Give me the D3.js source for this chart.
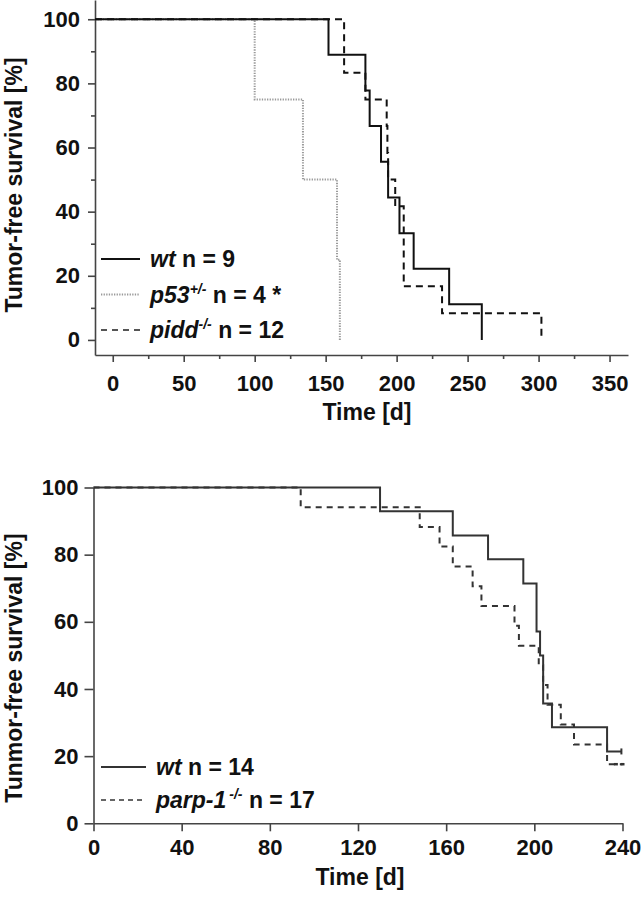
<!DOCTYPE html>
<html>
<head>
<meta charset="utf-8">
<script src="https://d3js.org/d3.v7.min.js"></script>
<style>
body { margin: 0; background: #fff; }
text { font-family: "Liberation Sans", Arial, sans-serif; font-weight: bold; fill: #111; }
</style>
</head>
<body>
<script>
// top panel - tumor-free survival (days, %)
var wtTime = [0, 152, 178, 181, 189, 194, 202, 212, 237, 260];
var wtSurv = [100, 88.9, 77.8, 66.7, 55.6, 44.4, 33.3, 22.2, 11.1, 0];
var p53Time = [0, 100, 134, 158, 160];
var p53Surv = [100, 75, 50, 25, 0];
var piddTime = [0, 163, 178, 193, 193.5, 194, 199, 205, 232, 302];
var piddSurv = [100, 83.3, 75, 66.7, 58.3, 50, 41.7, 16.7, 8.3, 0];

// bottom panel
var wt2Time = [0, 130, 163, 179, 195, 201, 202.6, 204, 208, 233, 239.5];
var wt2Surv = [100, 92.9, 85.7, 78.6, 71.4, 57.1, 50, 35.7, 28.6, 21.4, 21.4];
var parpTime = [0, 94, 148, 157, 163, 172, 176, 191, 193, 202, 204, 206, 212, 218, 233, 240];
var parpSurv = [100, 94.1, 88.2, 82.4, 76.5, 70.6, 64.7, 58.8, 52.9, 47.1, 41.2, 35.3, 29.4, 23.5, 17.6, 17.6];
var wt2Censor = [239.5];
var parpCensor = [237, 240];

var topXTicks = [0, 50, 100, 150, 200, 250, 300, 350];
var topXMinor = [25, 75, 125, 175, 225, 275, 325];
var topYTicks = [0, 20, 40, 60, 80, 100];
var topYMinor = [10, 30, 50, 70, 90];
var botXTicks = [0, 40, 80, 120, 160, 200, 240];
var botYTicks = [0, 20, 40, 60, 80, 100];

var topNames = ["wt", "p53", "pidd"];
var topSups = ["", "+/-", "-/-"];
var topCounts = [" n = 9", " n = 4 *", " n = 12"];
var botNames = ["wt", "parp-1"];
var botSups = ["", "-/-"];
var botCounts = [" n = 14", " n = 17"];

var svg = d3.select("body").append("svg")
    .attr("width", 643)
    .attr("height", 897);

function zip(t, s) {
  return t.map(function(d, i) { return {t: d, s: s[i]}; });
}

// ---------- top chart ----------
var x1 = d3.scaleLinear().domain([-12.5, 363]).range([95, 628]);
var y1 = d3.scaleLinear().domain([-4.7, 106]).range([355, 0]);

var topG = svg.append("g");

topG.append("g")
    .attr("transform", "translate(95,0)")
    .call(d3.axisLeft(y1).tickValues(topYTicks).tickSize(7).tickSizeOuter(0).tickPadding(8));
topG.append("g")
    .attr("transform", "translate(95,0)")
    .call(d3.axisLeft(y1).tickValues(topYMinor).tickSize(4).tickFormat(""))
    .select(".domain").remove();

topG.append("g")
    .attr("transform", "translate(0,355)")
    .call(d3.axisBottom(x1).tickValues(topXTicks).tickSize(7).tickSizeOuter(0).tickPadding(13));
topG.append("g")
    .attr("transform", "translate(0,355)")
    .call(d3.axisBottom(x1).tickValues(topXMinor).tickSize(4).tickFormat(""))
    .select(".domain").remove();

var line1 = d3.line()
    .x(function(d) { return x1(d.t); })
    .y(function(d) { return y1(d.s); })
    .curve(d3.curveStepAfter);

// curves are drawn from the left edge of the axis
function fromEdge(t, s) {
  var pts = zip(t, s);
  pts.unshift({t: x1.domain()[0], s: s[0]});
  return pts;
}

topG.append("path").datum(fromEdge(p53Time, p53Surv))
    .attr("d", line1).attr("fill", "none")
    .attr("stroke", "#9a9a9a").attr("stroke-width", 2).attr("stroke-dasharray", "1.3,1.3");
topG.append("path").datum(fromEdge(wtTime, wtSurv))
    .attr("d", line1).attr("fill", "none")
    .attr("stroke", "#111").attr("stroke-width", 2);
topG.append("path").datum(fromEdge(piddTime, piddSurv))
    .attr("d", line1).attr("fill", "none")
    .attr("stroke", "#111").attr("stroke-width", 2).attr("stroke-dasharray", "7,5");

topG.append("text")
    .attr("transform", "translate(14,185) rotate(-90)")
    .attr("text-anchor", "middle")
    .attr("dominant-baseline", "central")
    .style("font-size", "23px")
    .text("Tumor-free survival [%]");

topG.append("text")
    .attr("x", 367).attr("y", 420)
    .attr("text-anchor", "middle")
    .style("font-size", "23px")
    .text("Time [d]");

var topStyles = [
  {stroke: "#111", dash: null},
  {stroke: "#9a9a9a", dash: "1.3,1.3"},
  {stroke: "#555", dash: "6,5"}
];
topNames.forEach(function(n, i) {
  var yy = 259 + i * 35.5;
  topG.append("line")
    .attr("x1", 101).attr("x2", 140).attr("y1", yy).attr("y2", yy)
    .attr("stroke", topStyles[i].stroke).attr("stroke-width", 2)
    .attr("stroke-dasharray", topStyles[i].dash);
  var t = topG.append("text").attr("x", 150).attr("y", yy + 8).style("font-size", "23px");
  t.append("tspan").style("font-style", "italic").text(n);
  if (topSups[i]) {
    t.append("tspan").attr("dy", -9).style("font-size", "14px").style("font-style", "italic").text(topSups[i]);
    t.append("tspan").attr("dy", 9).text(topCounts[i]);
  } else {
    t.append("tspan").text(topCounts[i]);
  }
});

// ---------- bottom chart ----------
var x2 = d3.scaleLinear().domain([0, 240]).range([93.5, 622.5]);
var y2 = d3.scaleLinear().domain([0, 100]).range([823.3, 487.5]);

var botG = svg.append("g");

botG.append("g")
    .attr("transform", "translate(93.5,0)")
    .call(d3.axisLeft(y2).tickValues(botYTicks).tickSize(9).tickSizeOuter(0).tickPadding(6));
botG.append("g")
    .attr("transform", "translate(0,823.3)")
    .call(d3.axisBottom(x2).tickValues(botXTicks).tickSize(8).tickSizeOuter(0).tickPadding(8));

var line2 = d3.line()
    .x(function(d) { return x2(d.t); })
    .y(function(d) { return y2(d.s); })
    .curve(d3.curveStepAfter);

botG.append("path").datum(zip(parpTime, parpSurv))
    .attr("d", line2).attr("fill", "none")
    .attr("stroke", "#333").attr("stroke-width", 2).attr("stroke-dasharray", "6,5");
botG.append("path").datum(zip(wt2Time, wt2Surv))
    .attr("d", line2).attr("fill", "none")
    .attr("stroke", "#333").attr("stroke-width", 2);

// censor marks
botG.selectAll(".cw").data(wt2Censor).enter().append("line")
    .attr("x1", function(d) { return x2(d); }).attr("x2", function(d) { return x2(d); })
    .attr("y1", y2(21.4) - 3).attr("y2", y2(21.4) + 3)
    .attr("stroke", "#333").attr("stroke-width", 2);
botG.selectAll(".cp").data(parpCensor).enter().append("line")
    .attr("x1", function(d) { return x2(d) - 2; }).attr("x2", function(d) { return x2(d) + 2; })
    .attr("y1", y2(17.6)).attr("y2", y2(17.6))
    .attr("stroke", "#333").attr("stroke-width", 2.5);

botG.append("text")
    .attr("transform", "translate(14,668) rotate(-90)")
    .attr("text-anchor", "middle")
    .attr("dominant-baseline", "central")
    .style("font-size", "23px")
    .text("Tunmor-free survival [%]");

botG.append("text")
    .attr("x", 360).attr("y", 885)
    .attr("text-anchor", "middle")
    .style("font-size", "23px")
    .text("Time [d]");

var botStyles = [
  {stroke: "#333", dash: null},
  {stroke: "#666", dash: "5,4"}
];
botNames.forEach(function(n, i) {
  var yy = 767 + i * 33;
  botG.append("line")
    .attr("x1", 101).attr("x2", 146).attr("y1", yy).attr("y2", yy)
    .attr("stroke", botStyles[i].stroke).attr("stroke-width", 2)
    .attr("stroke-dasharray", botStyles[i].dash);
  var t = botG.append("text").attr("x", 156).attr("y", yy + 8).style("font-size", "23px");
  t.append("tspan").style("font-style", "italic").text(n);
  if (botSups[i]) {
    t.append("tspan").attr("dx", 3).attr("dy", -9).style("font-size", "14px").style("font-style", "italic").text(botSups[i]);
    t.append("tspan").attr("dy", 9).text(botCounts[i]);
  } else {
    t.append("tspan").text(botCounts[i]);
  }
});

// axis styling
svg.selectAll(".domain").attr("stroke", "#444").attr("stroke-width", 1.6);
svg.selectAll(".tick line").attr("stroke", "#444").attr("stroke-width", 1.6);
svg.selectAll(".tick text")
    .style("font-size", "22px")
    .style("font-family", "'Liberation Sans', Arial, sans-serif")
    .style("font-weight", "bold")
    .attr("fill", "#111");
</script>
</body>
</html>
